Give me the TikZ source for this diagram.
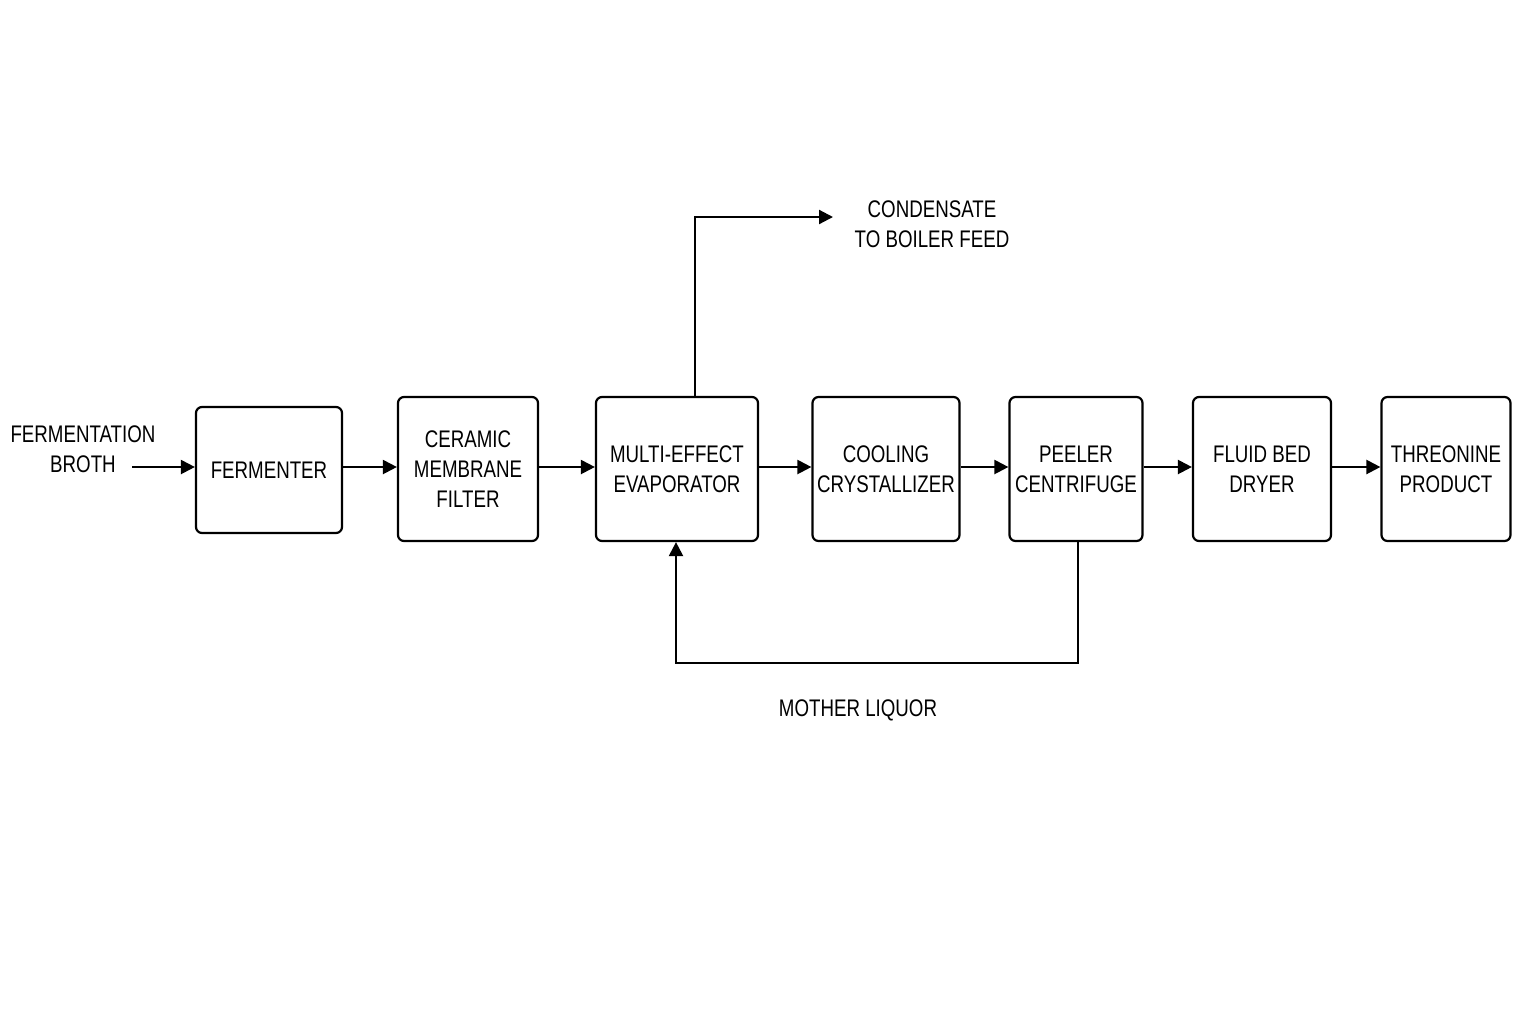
\documentclass[tikz,border=0pt]{standalone}
\usepackage{fontspec}
\setmainfont{Liberation Sans}[FakeStretch=0.78]
\usetikzlibrary{arrows.meta}
\begin{document}
\begin{tikzpicture}[x=0.5pt,y=-0.5pt,
  box/.style={draw,line width=1.1pt,rounded corners=3pt,align=center,font=\fontsize{12}{15}\selectfont,inner sep=0pt},
  lbl/.style={align=center,font=\fontsize{12}{15}\selectfont},
  flow/.style={line width=1.1pt,-{Triangle[length=7pt,width=7pt]}}]
\useasboundingbox (0,0) rectangle (1536,1024);
\node[box,minimum width=73pt,minimum height=63pt] (f) at (269,470) {FERMENTER};
\node[box,minimum width=70pt,minimum height=72pt] (c) at (468,469) {CERAMIC\\MEMBRANE\\FILTER};
\node[box,minimum width=81pt,minimum height=72pt] (m) at (677,469) {MULTI-EFFECT\\EVAPORATOR};
\node[box,minimum width=73.5pt,minimum height=72pt] (k) at (886,469) {COOLING\\CRYSTALLIZER};
\node[box,minimum width=66.5pt,minimum height=72pt] (p) at (1076,469) {PEELER\\CENTRIFUGE};
\node[box,minimum width=69pt,minimum height=72pt] (d) at (1262,469) {FLUID BED\\DRYER};
\node[box,minimum width=64.5pt,minimum height=72pt] (t) at (1446,469) {THREONINE\\PRODUCT};
\node[lbl] (broth) at (83,449) {FERMENTATION\\BROTH};
\node[lbl] (cond) at (932,224) {CONDENSATE\\TO BOILER FEED};
\node[lbl] (ml) at (858,710) {MOTHER LIQUOR};
\coordinate (bs) at (132,467);
\coordinate (u1) at (695,217);
\coordinate (ue) at (833,217);
\coordinate (l1) at (1078,663);
\coordinate (l2) at (676,663);
\draw[flow] (bs) -- (bs -| f.west);
\draw[flow] (f.east |- 0,467) -- (c.west |- 0,467);
\draw[flow] (c.east |- 0,467) -- (m.west |- 0,467);
\draw[flow] (m.east |- 0,467) -- (k.west |- 0,467);
\draw[flow] (k.east |- 0,467) -- (p.west |- 0,467);
\draw[flow] (p.east |- 0,467) -- (d.west |- 0,467);
\draw[flow] (d.east |- 0,467) -- (t.west |- 0,467);
\draw[flow] (u1 |- m.north) -- (u1) -- (ue);
\draw[flow] (l1 |- p.south) -- (l1) -- (l2) -- (l2 |- m.south);
\end{tikzpicture}
\end{document}
